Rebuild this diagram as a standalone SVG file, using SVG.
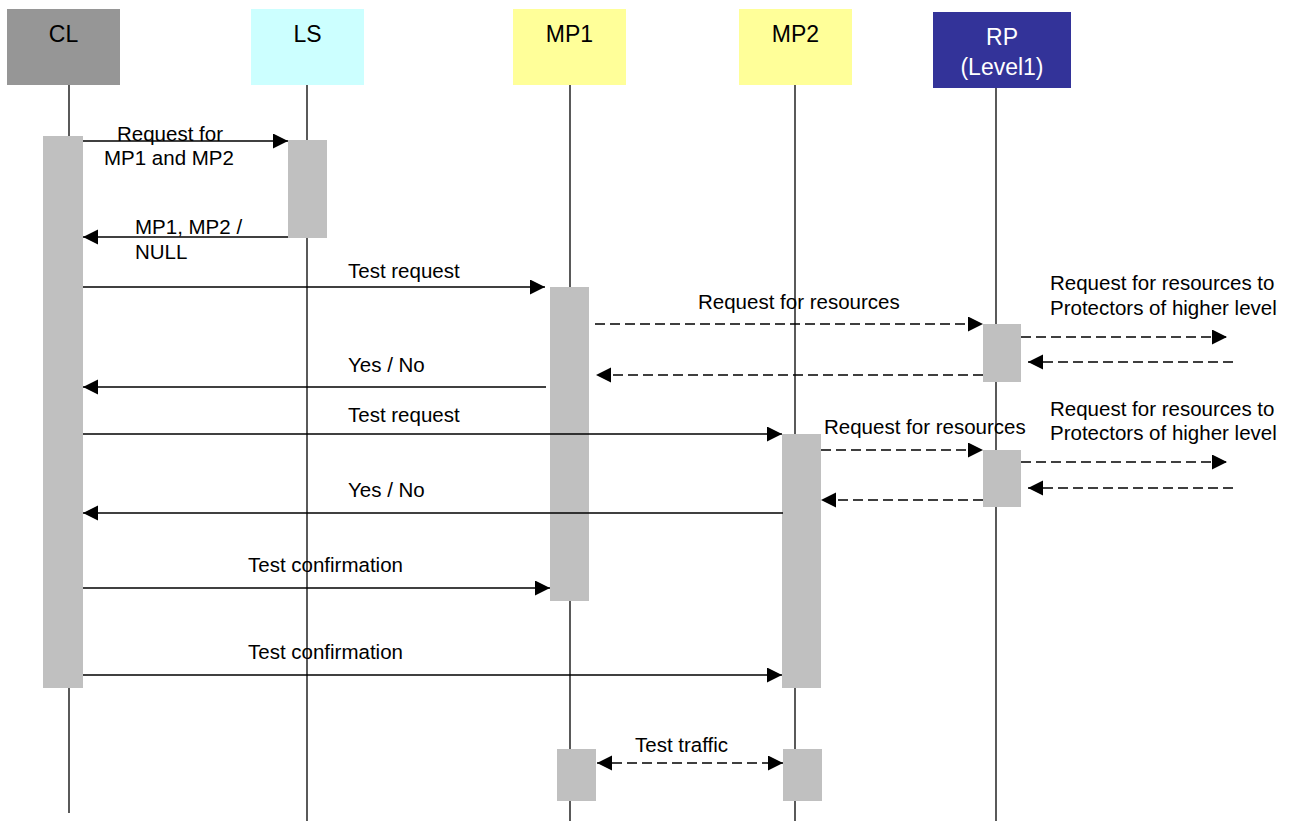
<svg xmlns="http://www.w3.org/2000/svg" width="1289" height="821" viewBox="0 0 1289 821">
  <style>
    .lbl { font-family: "Liberation Sans", Arial, sans-serif; font-size: 20.5px; fill: #000; }
    .hdr { font-family: "Liberation Sans", Arial, sans-serif; font-size: 23px; fill: #000; text-anchor: middle; }
    .life { stroke: #000; stroke-width: 1.3; fill: none; }
    .bar { fill: #c0c0c0; }
    .msg { stroke: #000; stroke-width: 1.4; fill: none; marker-end: url(#arr); }
    .dash { stroke-dasharray: 10 5; }
  </style>
  <defs>
    <marker id="arr" markerUnits="userSpaceOnUse" markerWidth="16" markerHeight="16" refX="15" refY="7.5" orient="auto-start-reverse">
      <path d="M0,0 L15,7.5 L0,15 z" fill="#000"/>
    </marker>
  </defs>
  <rect width="1289" height="821" fill="#fff"/>

  <!-- lifelines -->
  <g id="lifelines">
    <line class="life" x1="69" y1="85" x2="69" y2="813"/>
    <line class="life" x1="307" y1="85" x2="307" y2="821"/>
    <line class="life" x1="570" y1="85" x2="570" y2="821"/>
    <line class="life" x1="795" y1="85" x2="795" y2="821"/>
    <line class="life" x1="996" y1="88" x2="996" y2="821"/>
  </g>

  <!-- participants -->
  <g id="cl">
    <rect x="7" y="9" width="113" height="76" fill="#969696"/>
    <text class="hdr" x="63.5" y="42">CL</text>
  </g>
  <g id="ls">
    <rect x="251" y="9" width="113" height="76" fill="#ccffff"/>
    <text class="hdr" x="307.5" y="42">LS</text>
  </g>
  <g id="mp1">
    <rect x="513" y="9" width="113" height="76" fill="#ffff99"/>
    <text class="hdr" x="569.5" y="42">MP1</text>
  </g>
  <g id="mp2">
    <rect x="739" y="9" width="113" height="76" fill="#ffff99"/>
    <text class="hdr" x="795.5" y="42">MP2</text>
  </g>
  <g id="rp">
    <rect x="933" y="12" width="138" height="76" fill="#333399"/>
    <text class="hdr" x="1002" y="45" fill="#fff" style="fill:#fff">RP</text>
    <text class="hdr" x="1002" y="75" style="fill:#fff">(Level1)</text>
  </g>

  <!-- activation bars -->
  <g id="activations">
    <rect class="bar" x="43" y="136" width="40" height="552"/>
    <rect class="bar" x="288" y="140" width="39" height="98"/>
    <rect class="bar" x="550" y="287" width="39" height="314"/>
    <rect class="bar" x="782" y="434" width="39" height="254"/>
    <rect class="bar" x="983" y="324" width="38" height="58"/>
    <rect class="bar" x="983" y="450" width="38" height="57"/>
    <rect class="bar" x="557" y="749" width="39" height="52"/>
    <rect class="bar" x="783" y="749" width="39" height="52"/>
  </g>

  <!-- messages -->
  <g id="connectors">
    <line class="msg" x1="83" y1="141" x2="288" y2="141"/>
    <line class="msg" x1="288" y1="237" x2="83" y2="237"/>
    <line class="msg" x1="83" y1="287" x2="545" y2="287"/>
    <line class="msg dash" x1="595" y1="324" x2="983" y2="324"/>
    <line class="msg dash" x1="983" y1="375" x2="596" y2="375"/>
    <line class="msg dash" x1="1021" y1="337" x2="1227" y2="337"/>
    <line class="msg dash" x1="1233" y1="362" x2="1028" y2="362"/>
    <line class="msg" x1="546" y1="387" x2="83" y2="387"/>
    <line class="msg" x1="83" y1="434" x2="782" y2="434"/>
    <line class="msg dash" x1="821" y1="450" x2="983" y2="450"/>
    <line class="msg dash" x1="1021" y1="462" x2="1227" y2="462"/>
    <line class="msg dash" x1="1233" y1="488" x2="1028" y2="488"/>
    <line class="msg dash" x1="983" y1="500" x2="821" y2="500"/>
    <line class="msg" x1="783" y1="513" x2="83" y2="513"/>
    <line class="msg" x1="83" y1="588" x2="550" y2="588"/>
    <line class="msg" x1="83" y1="675" x2="782" y2="675"/>
    <line class="msg dash" x1="597" y1="763" x2="783" y2="763" marker-start="url(#arr)"/>
  </g>

  <!-- message labels -->
  <g id="labels">
    <text class="lbl" x="117" y="141">Request for</text>
    <text class="lbl" x="104" y="165">MP1 and MP2</text>
    <text class="lbl" x="135" y="234">MP1, MP2 /</text>
    <text class="lbl" x="135" y="259">NULL</text>
    <text class="lbl" x="348" y="278">Test request</text>
    <text class="lbl" x="698" y="309">Request for resources</text>
    <text class="lbl" x="1050" y="290">Request for resources to</text>
    <text class="lbl" x="1050" y="315">Protectors of higher level</text>
    <text class="lbl" x="348" y="372">Yes / No</text>
    <text class="lbl" x="348" y="422">Test request</text>
    <text class="lbl" x="824" y="434">Request for resources</text>
    <text class="lbl" x="1050" y="416">Request for resources to</text>
    <text class="lbl" x="1050" y="440">Protectors of higher level</text>
    <text class="lbl" x="348" y="497">Yes / No</text>
    <text class="lbl" x="248" y="572">Test confirmation</text>
    <text class="lbl" x="248" y="659">Test confirmation</text>
    <text class="lbl" x="635" y="752">Test traffic</text>
  </g>
</svg>
